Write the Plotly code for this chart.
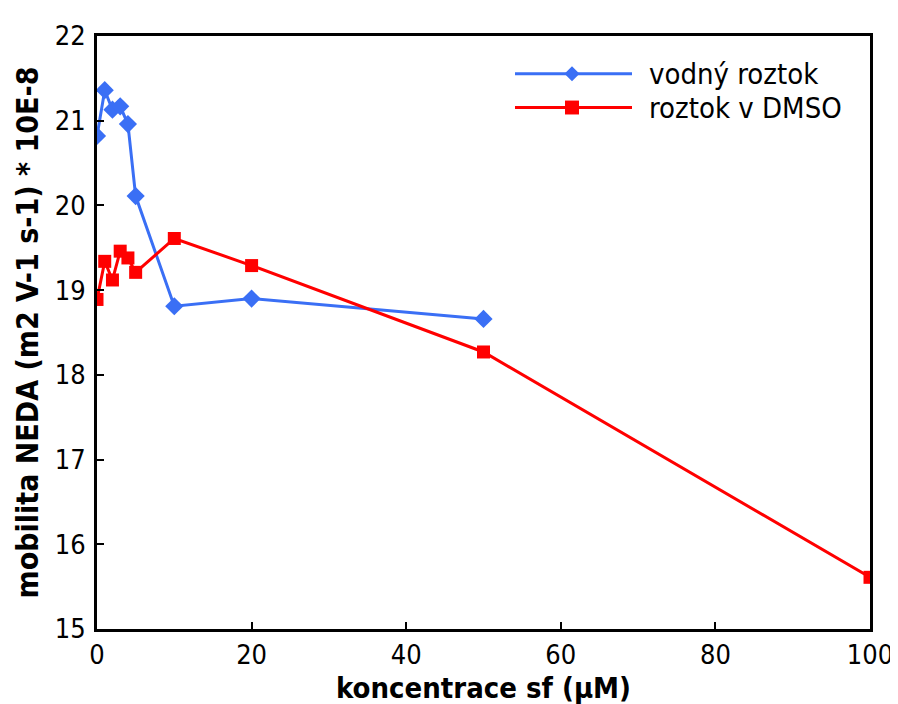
import plotly.graph_objects as go

x_water = [0, 1, 2, 3, 4, 5, 10, 20, 50]
y_water = [20.82, 21.36, 21.13, 21.17, 20.96, 20.11, 18.81, 18.90, 18.66]

x_dmso = [0, 1, 2, 3, 4, 5, 10, 20, 50, 100]
y_dmso = [18.89, 19.34, 19.12, 19.46, 19.38, 19.21, 19.61, 19.29, 18.27, 15.61]

name_water = "vodný roztok"
name_dmso = "roztok v DMSO"
x_title = "koncentrace sf (µM)"
y_title = "mobilita NEDA (m2 V-1 s-1) * 10E-8"
x_ticks = [0, 20, 40, 60, 80, 100]
y_ticks = [15, 16, 17, 18, 19, 20, 21, 22]

BLUE = "#3a6ff5"
RED = "#ff0000"
FONT = "DejaVu Sans Condensed, DejaVu Sans"

W, H = 898, 704
L, R, T, B = 89, 36, 24, 83
PW, PH = W - L - R, H - T - B


def px(x):
    return (x - L) / PW


def py(y):
    return 1 - (y - T) / PH


fig = go.Figure()
fig.add_trace(go.Scatter(x=x_water, y=y_water, name=name_water, mode="lines+markers",
                         line=dict(color=BLUE, width=3),
                         marker=dict(symbol="diamond", size=14, color=BLUE)))
fig.add_trace(go.Scatter(x=x_dmso, y=y_dmso, name=name_dmso, mode="lines+markers",
                         line=dict(color=RED, width=3),
                         marker=dict(symbol="square", size=13, color=RED)))

# custom legend (figure pixel coords)
shapes = []
annotations = []
legend_items = [(name_water, BLUE, "diamond", 62), (name_dmso, RED, "square", 96)]
for name, col, sym, yy in legend_items:
    shapes.append(dict(type="line", xref="paper", yref="paper", x0=px(507), x1=px(624),
                       y0=py(yy), y1=py(yy), line=dict(color=col, width=3)))
    cx = 564
    if sym == "diamond":
        d = 7.5
        path = (f"M {px(cx - d)} {py(yy)} L {px(cx)} {py(yy - d)} L {px(cx + d)} {py(yy)} "
                f"L {px(cx)} {py(yy + d)} Z")
    else:
        d = 7
        path = (f"M {px(cx - d)} {py(yy - d)} L {px(cx + d)} {py(yy - d)} L {px(cx + d)} {py(yy + d)} "
                f"L {px(cx - d)} {py(yy + d)} Z")
    shapes.append(dict(type="path", xref="paper", yref="paper", path=path,
                       fillcolor=col, line=dict(color=col, width=0)))
    annotations.append(dict(x=px(639), y=py(yy), xref="paper", yref="paper", text=name,
                            showarrow=False, xanchor="left", yanchor="middle",
                            font=dict(family=FONT, size=29, color="black")))

tickfont = dict(family=FONT, size=27, color="black")
titlefont = dict(family=FONT, size=30, color="black", weight="bold")

# x-axis title as annotation so it stays fully inside the visible window
annotations.append(dict(x=0.5, y=py(680), xref="paper", yref="paper", text=x_title,
                        showarrow=False, xanchor="center", yanchor="middle",
                        font=dict(family=FONT, size=29, color="black", weight="bold")))

fig.update_layout(
    width=W, height=H,
    margin=dict(l=L, r=R, t=T, b=B),
    paper_bgcolor="white", plot_bgcolor="white",
    showlegend=False,
    shapes=shapes,
    annotations=annotations,
    xaxis=dict(range=[0, 100], tickvals=x_ticks, ticks="inside", ticklen=7, tickwidth=2,
               tickcolor="black", showline=True, linecolor="black", linewidth=3, mirror=True,
               showgrid=False, zeroline=False, tickfont=tickfont),
    yaxis=dict(range=[15, 22], tickvals=y_ticks, ticks="inside", ticklen=7, tickwidth=2,
               tickcolor="black", showline=True, linecolor="black", linewidth=3, mirror=True,
               showgrid=False, zeroline=False, tickfont=tickfont, ticklabelstandoff=3,
               title=dict(text=y_title, font=titlefont, standoff=8)),
)

fig.write_html("out.html")
